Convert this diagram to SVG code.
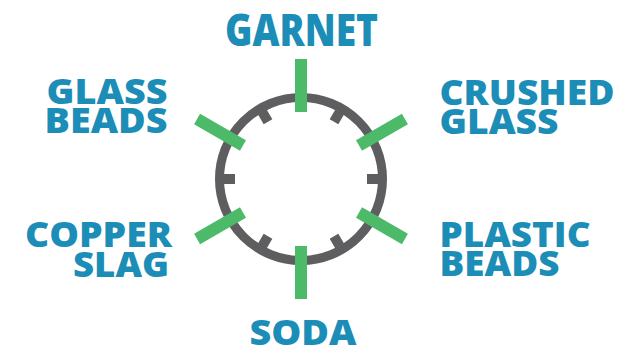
<svg xmlns="http://www.w3.org/2000/svg" width="626" height="349" viewBox="0 0 626 349">
<style>
.lbl{font-family:"Open Sans","Liberation Sans",sans-serif;font-weight:800;font-size:36px;fill:#1b8db6}
.ring{fill:none;stroke:#5e5e60;stroke-width:9}
.tick{fill:#5e5e60}
.bar{fill:#4dba6a}
</style>
<defs>
<rect id="tk" class="tick" x="-5" y="-80" width="10" height="14"/>
<rect id="br" class="bar" x="-6" y="-120" width="12" height="53"/>
</defs>
<g id="hub" transform="translate(301 179)">
<circle class="ring" cx="0" cy="0" r="81.5"/>
<use href="#tk" transform="rotate(30)"/>
<use href="#tk" transform="rotate(90)"/>
<use href="#tk" transform="rotate(150)"/>
<use href="#tk" transform="rotate(210)"/>
<use href="#tk" transform="rotate(270)"/>
<use href="#tk" transform="rotate(330)"/>
</g>
<g id="connectors" transform="translate(301 179)">
<use href="#br" transform="rotate(0)"/>
<use href="#br" transform="rotate(60)"/>
<use href="#br" transform="rotate(120)"/>
<use href="#br" transform="rotate(180)"/>
<use href="#br" transform="rotate(240)"/>
<use href="#br" transform="rotate(300)"/>
</g>
<g id="garnet"><text class="lbl" x="225" y="46" style="font-size:45px" textLength="153" lengthAdjust="spacingAndGlyphs">GARNET</text></g>
<g id="glass-beads">
<text class="lbl" x="46.5" y="104" textLength="121" lengthAdjust="spacingAndGlyphs">GLASS</text>
<text class="lbl" x="44.5" y="133" textLength="123" lengthAdjust="spacingAndGlyphs">BEADS</text>
</g>
<g id="crushed-glass">
<text class="lbl" x="439.5" y="105" textLength="175" lengthAdjust="spacingAndGlyphs">CRUSHED</text>
<text class="lbl" x="439.5" y="134" textLength="119" lengthAdjust="spacingAndGlyphs">GLASS</text>
</g>
<g id="copper-slag">
<text class="lbl" x="25" y="247" textLength="147" lengthAdjust="spacingAndGlyphs">COPPER</text>
<text class="lbl" x="73" y="277" textLength="96" lengthAdjust="spacingAndGlyphs">SLAG</text>
</g>
<g id="plastic-beads">
<text class="lbl" x="439.5" y="247" textLength="151" lengthAdjust="spacingAndGlyphs">PLASTIC</text>
<text class="lbl" x="439.5" y="276" textLength="120" lengthAdjust="spacingAndGlyphs">BEADS</text>
</g>
<g id="soda"><text class="lbl" x="249.5" y="345" textLength="107" lengthAdjust="spacingAndGlyphs">SODA</text></g>
</svg>
